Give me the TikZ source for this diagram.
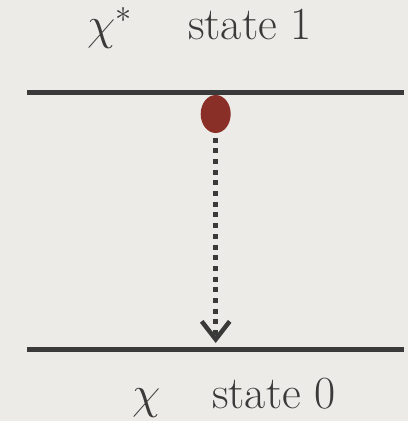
\documentclass[tikz,border=0pt]{standalone}
\usepackage{fix-cm}
\usetikzlibrary{arrows.meta,shapes.geometric}
\definecolor{bg}{HTML}{EDEBE7}
\definecolor{ink}{HTML}{3A3A3A}
\definecolor{dotred}{HTML}{8A2F27}
\tikzset{
  level/.style={draw=ink, line width=5pt},
  lbl/.style={anchor=base west, inner sep=0pt, text=ink, font=\fontsize{46}{52}\selectfont},
  particle/.style={ellipse, fill=dotred, minimum width=30pt, minimum height=38pt, inner sep=0pt},
  decay/.style={draw=ink, line width=5pt, dash pattern=on 5pt off 5.7pt,
    -{Straight Barb[length=18pt,width=28pt,line width=4.5pt]}}
}
\begin{document}
\begin{tikzpicture}[x=1pt,y=-1pt]
\fill[bg] (0,0) rectangle (408,421);
\useasboundingbox (0,0) rectangle (408,421);
\coordinate (l1a) at (27,92);
\coordinate (l1b) at (404,92);
\coordinate (l0a) at (27,349);
\coordinate (l0b) at (404,349);
\draw[level] (l1a) -- (l1b);
\draw[level] (l0a) -- (l0b);
\node[particle] (p) at (215.7,114) {};
\coordinate (tip) at (215.7,343);
\coordinate (start) at (215.7,137.5);
\draw[decay] (start) -- (tip);
\node[lbl] (c1) at (87,39) {$\chi^{*}$};
\node[lbl] (s1) at (188,39) {state 1};
\node[lbl] (c0) at (132,408) {$\chi$};
\node[lbl] (s0) at (212,408) {state 0};
\end{tikzpicture}
\end{document}
